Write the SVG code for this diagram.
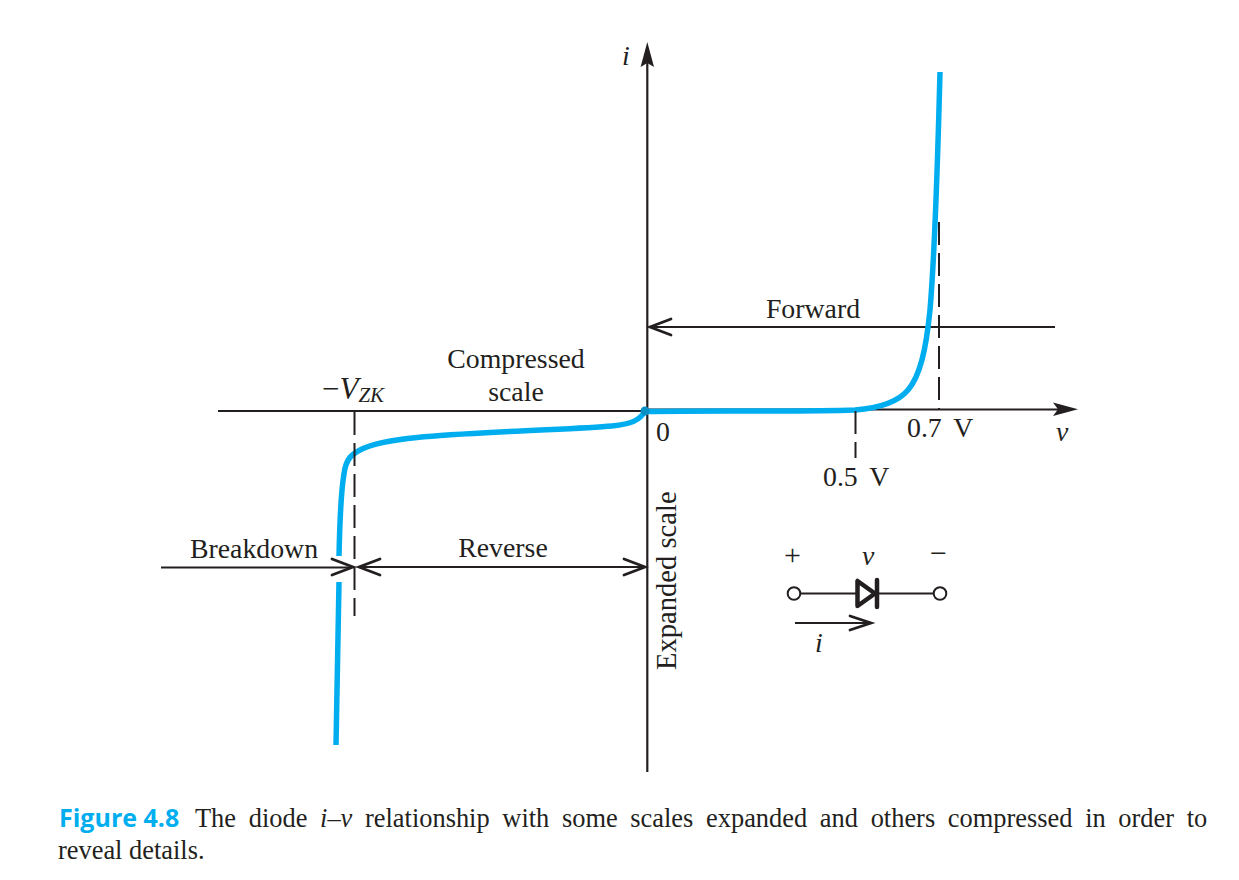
<svg xmlns="http://www.w3.org/2000/svg" width="1239" height="880" viewBox="0 0 1239 880">
<style>
text{font-family:"Liberation Serif","Times New Roman",serif;fill:#231f20;font-size:27.800px}
.it{font-style:italic}
.ln{stroke:#231f20;stroke-width:2.200;fill:none}
.ds{stroke:#231f20;stroke-width:2;fill:none;stroke-dasharray:23 8}
.cv{stroke:#00aeef;stroke-width:5.500;fill:none}
.open{stroke:#231f20;stroke-width:2.800;fill:none;stroke-linecap:round;stroke-linejoin:miter}
.solid{fill:#231f20;stroke:none}
text.cap{font-size:26.400px}
</style>
<rect width="1239" height="880" fill="#fff"/>
<g id="connectors">
<path class="ln" d="M647.3 60V772"/>
<path class="solid" d="M647.3 42L654 67L647.3 63L640.6 67Z"/>
<path class="ln" d="M218 411H645"/>
<path class="ln" d="M645 409.500H1060"/>
<path class="solid" d="M1078 409.300L1053 402.500L1058 409.300L1053 416Z"/>
<path class="ln" d="M650 327H1055"/>
<path class="open" d="M671 319L650 327L671 335"/>
<path class="ln" d="M161 567.500H352"/>
<path class="open" d="M332 559L353 567L332 575"/>
<path class="ln" d="M359 567H645"/>
<path class="open" d="M380 559L359 567L380 575"/>
<path class="open" d="M624 559L645 567L624 575"/>
</g>
<g id="curve">
<path class="cv" d="M336 745L339 582"/>
<path class="cv" d="M339 556C340 510 342 485 344 474C346 458 352 454 362 449C385 438 440 435 500 432C560 429 590 428 612 426C632 424 640 420 645 411"/>
<path class="cv" d="M645 411.500C720 410 800 412 855 410C880 408 898 402 908 390C920 376 926 350 930 310C935 250 938 150 940 72"/>
<circle cx="645" cy="411" r="4.500" fill="#0a8fc4"/>
</g>
<g id="guides">
<path class="ds" d="M939 222V409"/>
<path class="ds" d="M855.500 411V458"/>
<path class="ds" d="M354.500 412V616"/>
</g>
<g id="axis-labels">
<text class="it" x="622" y="65">i</text>
<text class="it" x="1056" y="441">v</text>
<text x="656" y="441">0</text>
<text x="907" y="437" word-spacing="5">0.7 V</text>
<text x="823" y="486" word-spacing="5">0.5 V</text>
<text x="322" y="399" style="font-size:31px">−<tspan class="it">V</tspan><tspan class="it" font-size="21" dy="3">ZK</tspan></text>
<text x="516" y="368" text-anchor="middle">Compressed</text>
<text x="516" y="401" text-anchor="middle">scale</text>
<text x="813" y="318" text-anchor="middle">Forward</text>
<text x="254" y="558" text-anchor="middle">Breakdown</text>
<text x="503" y="557" text-anchor="middle">Reverse</text>
<text transform="translate(676 670) rotate(-90)" style="font-size:28.600px">Expanded scale</text>
</g>
<g id="diode">
<path class="ln" d="M800 593.500H857M877 593.500H934"/>
<circle cx="794" cy="593.500" r="6.300" fill="#fff" stroke="#231f20" stroke-width="2"/>
<circle cx="940" cy="593.500" r="6.300" fill="#fff" stroke="#231f20" stroke-width="2"/>
<path d="M857.500 581L857.500 606L875 593.500Z" fill="#fff" stroke="#231f20" stroke-width="4.500" stroke-linejoin="round"/>
<path d="M877 580V607" stroke="#231f20" stroke-width="4.500" stroke-linecap="round"/>
<path class="ln" d="M795 623H868"/>
<path class="open" d="M850 616L871 623L850 630"/>
<text x="784" y="565" style="font-size:30px">+</text>
<text class="it" x="862" y="565">v</text>
<text x="930" y="563" style="font-size:30px">−</text>
<text class="it" x="815" y="652">i</text>
</g>
<g id="caption">
<text x="59" y="827" style="font-family:'Open Sans','Liberation Sans',sans-serif;font-weight:700;font-size:25px;fill:#00aeef">Figure 4.8</text>
<text class="cap" x="195" y="827" word-spacing="6.100">The diode <tspan class="it">i</tspan>–<tspan class="it">v</tspan> relationship with some scales expanded and others compressed in order to</text>
<text class="cap" x="58" y="859">reveal details.</text>
</g>
</svg>
